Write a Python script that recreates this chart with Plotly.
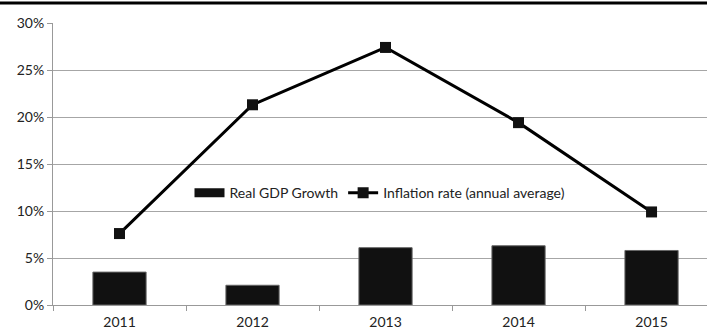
import plotly.graph_objects as go

years = ["2011", "2012", "2013", "2014", "2015"]
gdp_growth = [0.035, 0.021, 0.061, 0.063, 0.058]
inflation = [0.076, 0.213, 0.274, 0.194, 0.099]

fig = go.Figure()
fig.add_trace(go.Bar(
    x=years, y=gdp_growth, name="Real GDP Growth",
    marker=dict(color="#111111", line=dict(color="#666666", width=1)),
    width=0.4, showlegend=False,
))
# legend-only entry with a wide rectangular swatch for the bar series
fig.add_trace(go.Scatter(
    x=[None], y=[None], name="Real GDP Growth", mode="lines",
    line=dict(color="#111111", width=9),
))
fig.add_trace(go.Scatter(
    x=years, y=inflation, name="Inflation rate (annual average)",
    mode="lines+markers",
    line=dict(color="#000000", width=3),
    marker=dict(symbol="square", size=11, color="#111111"),
))

fig.update_layout(
    width=707, height=336,
    margin=dict(l=53, r=0, t=23, b=31),
    plot_bgcolor="white", paper_bgcolor="white",
    font=dict(family="Lato", size=14, color="#222222"),
    showlegend=True,
    legend=dict(orientation="h", x=0.5, y=0.397, xanchor="center", yanchor="middle",
                bgcolor="rgba(0,0,0,0)", font=dict(size=14), itemwidth=30,
                tracegroupgap=0),
    xaxis=dict(type="category", range=[-0.5, 4.417], showgrid=False,
               showline=True, linecolor="#999999", linewidth=1,
               ticks="outside", ticklen=5, tickcolor="#999999", tickson="boundaries",
               ticklabelstandoff=4),
    yaxis=dict(range=[0, 0.30], dtick=0.05, tickformat=".0%",
               showgrid=True, gridcolor="#a6a6a6", gridwidth=1,
               showline=True, linecolor="#999999", linewidth=1,
               ticks="outside", ticklen=5, tickcolor="#999999", zeroline=False),
    shapes=[dict(type="line", xref="paper", yref="paper",
                 x0=-0.09, x1=1.0, y0=1.071, y1=1.071, layer="above",
                 line=dict(color="black", width=3))],
)

fig.write_html("out.html")
